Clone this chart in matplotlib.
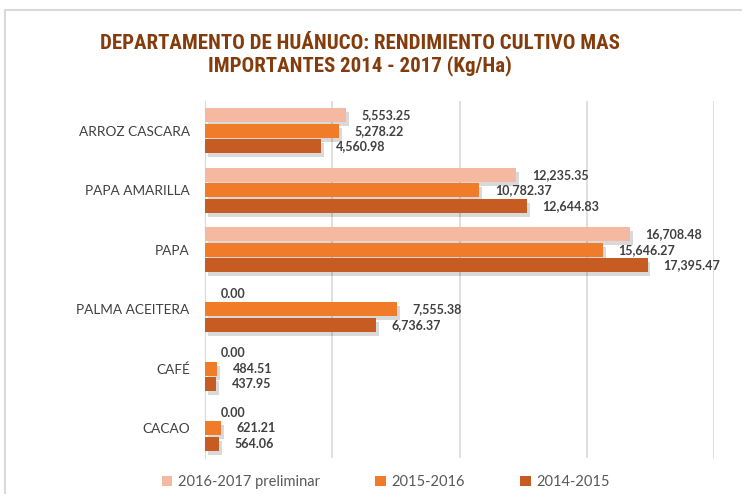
import matplotlib
matplotlib.use("Agg")
import matplotlib.pyplot as plt
import matplotlib.patheffects as pe
from matplotlib.patches import Rectangle, Patch
import numpy as np

categories = ["ARROZ CASCARA", "PAPA AMARILLA", "PAPA", "PALMA ACEITERA", "CAFÉ", "CACAO"]
series_names = ["2016-2017 preliminar", "2015-2016", "2014-2015"]
v_2016_2017 = [5553.25, 12235.35, 16708.48, 0.00, 0.00, 0.00]
v_2015_2016 = [5278.22, 10782.37, 15646.27, 7555.38, 484.51, 621.21]
v_2014_2015 = [4560.98, 12644.83, 17395.47, 6736.37, 437.95, 564.06]
colors = ["#F5B8A0", "#F07C2A", "#C65C22"]
title = "DEPARTAMENTO DE HUÁNUCO: RENDIMIENTO CULTIVO MAS\nIMPORTANTES 2014 - 2017 (Kg/Ha)"

fig = plt.figure(figsize=(7.42, 4.94), dpi=100)
fig.patch.set_facecolor("white")
fig.patches.append(Rectangle((5/742, -0.1), 1.2, 1 - 10/494 + 0.1, transform=fig.transFigure,
                             fill=False, edgecolor="#D9D9D9", linewidth=1.5))

ax = fig.add_axes([205/742, 1 - 458/494, (714 - 205)/742, (458 - 101)/494])
y = np.arange(len(categories))
offsets = [-0.26, 0.0, 0.26]
h = 0.235
series = [v_2016_2017, v_2015_2016, v_2014_2015]
shadow = [pe.SimplePatchShadow(offset=(2, -3), shadow_rgbFace="#000000", alpha=0.15), pe.Normal()]
for vals, off, col in zip(series, offsets, colors):
    bars = ax.barh(y + off, vals, height=h, color=col, zorder=3)
    for b in bars:
        b.set_path_effects(shadow)
    for yi, v in zip(y + off, vals):
        ax.annotate(f"{v:,.2f}", xy=(v, yi), xytext=(11, 0), textcoords="offset points",
                    va="center", ha="left", fontsize=9, fontweight="bold",
                    color="#404040", family=["Lato", "DejaVu Sans"], zorder=4)

ax.set_xlim(0, 20000)
ax.set_ylim(5.5, -0.5)
ax.set_xticks([0, 5000, 10000, 15000, 20000])
ax.xaxis.grid(True, color="#D9D9D9", linewidth=1.2, zorder=0)
ax.tick_params(axis="x", length=0, labelbottom=False)
ax.set_yticks(y)
ax.set_yticklabels(categories, fontsize=9.8, color="#404040", family=["Lato", "DejaVu Sans"])
ax.tick_params(axis="y", length=0, pad=11)
for s in ["top", "right", "bottom"]:
    ax.spines[s].set_visible(False)
ax.spines["left"].set_color("#D9D9D9")

fig.text(360/742, 1 - 55/494, title, ha="center", va="center", fontsize=15,
         fontweight="bold", color="#843C0C", linespacing=1.2,
         family=["Roboto Condensed", "Liberation Sans Narrow", "DejaVu Sans"])

handles = [Patch(facecolor=c, edgecolor="none") for c in colors]
leg = fig.legend(handles, series_names, loc="center", bbox_to_anchor=(386/742, 1 - 482/494), ncol=3,
                 frameon=False, handlelength=0.7, handleheight=0.7, handletextpad=0.4,
                 columnspacing=3.8, prop={"family": ["Lato", "DejaVu Sans"], "size": 10.5})
for t in leg.get_texts():
    t.set_color("#595959")

fig.savefig("out.png", dpi=100)
